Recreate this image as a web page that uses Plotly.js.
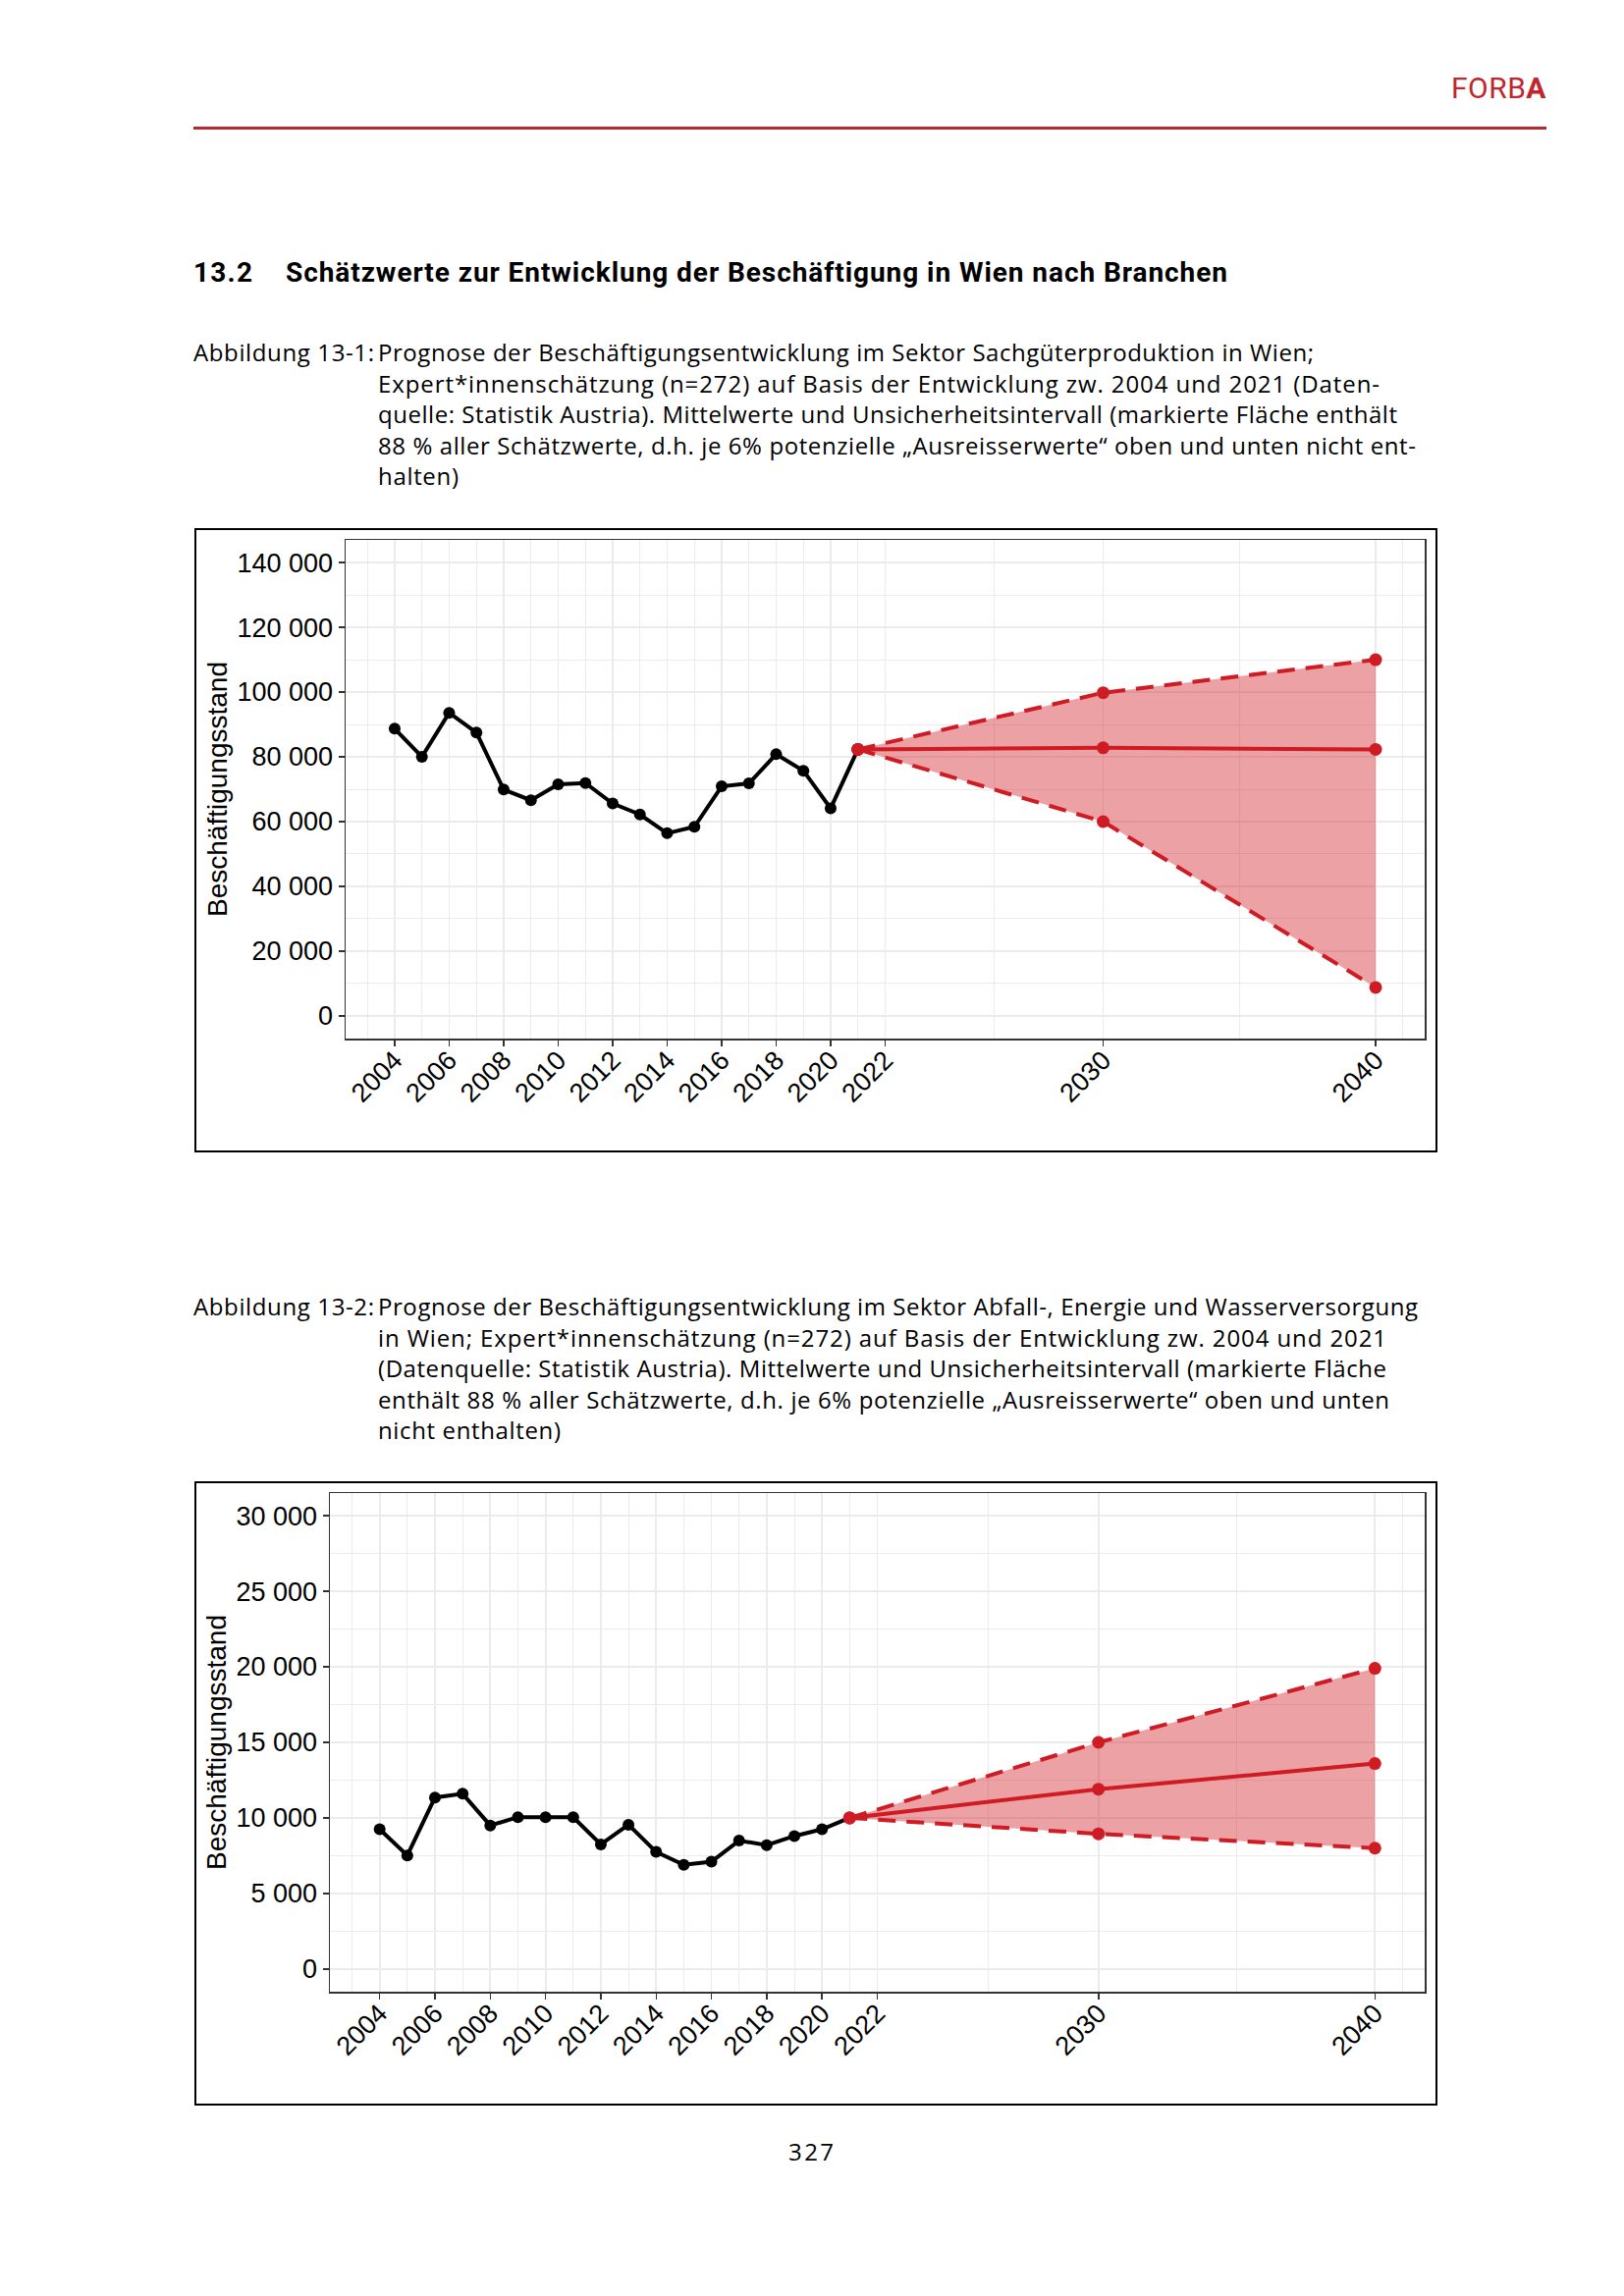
<!DOCTYPE html>
<html>
<head>
<meta charset="utf-8">
<script src="https://cdn.plot.ly/plotly-3.0.1.min.js"></script>
<style>
html,body{margin:0;padding:0;background:#fff;}
#page{position:relative;width:1654px;height:2339px;overflow:hidden;background:#fff;font-family:"Open Sans",Roboto,sans-serif;color:#000;}
.t{position:absolute;white-space:nowrap;line-height:32px;height:32px;font-size:24px;}
.h{font-weight:700;font-size:28px;font-family:Roboto,"Open Sans",sans-serif;}
.frame{position:absolute;border:2px solid #000;width:1262px;height:632px;left:198px;}
.rule{position:absolute;left:197px;width:1378px;top:129px;height:3px;background:#b8282e;}
#forba{position:absolute;top:70px;right:79px;font-size:30px;line-height:40px;color:#c0272d;letter-spacing:0.5px;font-family:Roboto,sans-serif;}
#forba b{font-weight:700;}
</style>
</head>
<body>
<div id="page">
  <div id="forba">FORB<b>A</b></div>
  <div class="rule"></div>
  <div id="c1" class="frame" style="top:538px;"></div>
  <div id="c2" class="frame" style="top:1509px;"></div>
</div>
<script>
// ---------- data ----------
const histYears = [2004,2005,2006,2007,2008,2009,2010,2011,2012,2013,2014,2015,2016,2017,2018,2019,2020,2021];
const forecastYears = [2021, 2030, 2040];

// Abbildung 13-1: Sachgüterproduktion
const sachHist  = [88700,80000,93600,87500,69900,66600,71500,71900,65600,62200,56400,58400,70900,71800,80800,75700,64100,82300];
const sachMean  = [82300, 82800, 82300];
const sachUpper = [82300, 99800, 110000];
const sachLower = [82300, 60000, 8800];

// Abbildung 13-2: Abfall-, Energie und Wasserversorgung
const abfHist  = [9250,7520,11350,11600,9500,10050,10050,10050,8250,9550,7750,6900,7100,8500,8200,8800,9250,10000];
const abfMean  = [10000, 11900, 13600];
const abfUpper = [10000, 15000, 19900];
const abfLower = [10000, 8950, 8000];

// ticks
const xTickVals = [2004,2006,2008,2010,2012,2014,2016,2018,2020,2022,2030,2040];
const xTickText = ['2004','2006','2008','2010','2012','2014','2016','2018','2020','2022','2030','2040'];
const xMinorVals = [2003,2005,2007,2009,2011,2013,2015,2017,2019,2021,2026,2035,2041];
const y1TickVals = [0,20000,40000,60000,80000,100000,120000,140000];
const y1TickText = ['0','20 000','40 000','60 000','80 000','100 000','120 000','140 000'];
const y1MinorVals = [10000,30000,50000,70000,90000,110000,130000];
const y2TickVals = [0,5000,10000,15000,20000,25000,30000];
const y2TickText = ['0','5 000','10 000','15 000','20 000','25 000','30 000'];
const y2MinorVals = [2500,7500,12500,17500,22500,27500];

const yTitle = 'Beschäftigungsstand';

// ---------- text ----------
const lines = [
  // [text, x, centerY, endX, cls]
  ['13.2', 197, 279, 257, 'h'],
  ['Schätzwerte zur Entwicklung der Beschäftigung in Wien nach Branchen', 291, 279, 1250, 'h'],
  ['Abbildung 13-1:', 197, 360, 381, ''],
  ['Prognose der Beschäftigungsentwicklung im Sektor Sachgüterproduktion in Wien;', 385, 360, 1338, ''],
  ['Expert*innenschätzung (n=272) auf Basis der Entwicklung zw. 2004 und 2021 (Daten-', 385, 391.5, 1405, ''],
  ['quelle: Statistik Austria). Mittelwerte und Unsicherheitsintervall (markierte Fläche enthält', 385, 423, 1423, ''],
  ['88 % aller Schätzwerte, d.h. je 6% potenzielle \u201EAusreisserwerte\u201C oben und unten nicht ent-', 385, 454.5, 1442, ''],
  ['halten)', 385, 486, 467, ''],
  ['Abbildung 13-2:', 197, 1332, 381, ''],
  ['Prognose der Beschäftigungsentwicklung im Sektor Abfall-, Energie und Wasserversorgung', 385, 1332, 1444, ''],
  ['in Wien; Expert*innenschätzung (n=272) auf Basis der Entwicklung zw. 2004 und 2021', 385, 1363.5, 1412, ''],
  ['(Datenquelle: Statistik Austria). Mittelwerte und Unsicherheitsintervall (markierte Fläche', 385, 1395, 1412, ''],
  ['enthält 88 % aller Schätzwerte, d.h. je 6% potenzielle \u201EAusreisserwerte\u201C oben und unten', 385, 1426.5, 1415, ''],
  ['nicht enthalten)', 385, 1458, 571, ''],
  ['327', 803, 2193, 849, '']
];
const page = document.getElementById('page');
const els = lines.map(([txt,x,cy,endX,cls]) => {
  const d = document.createElement('div');
  d.className = 't ' + cls;
  d.textContent = txt;
  d.style.left = x + 'px';
  d.style.top = (cy - 17) + 'px';
  page.appendChild(d);
  return [d, txt, x, endX];
});
function fit(){
  els.forEach(([d,txt,x,endX]) => {
    d.style.letterSpacing = '0px';
    const w = d.getBoundingClientRect().width;
    const n = Array.from(txt).length;
    if (n > 1) d.style.letterSpacing = ((endX - x - w) / (n - 1)) + 'px';
  });
}
fit();
if (document.fonts && document.fonts.ready) document.fonts.ready.then(fit);

// ---------- charts ----------
const RED = '#cf1b24';
const FILL = 'rgba(210,30,40,0.42)';

function traces(hist, mean, upper, lower){
  return [
    {x: forecastYears, y: lower, mode:'lines', line:{width:0, color:FILL}, hoverinfo:'skip'},
    {x: forecastYears, y: upper, mode:'lines', line:{width:0, color:FILL}, fill:'tonexty', fillcolor:FILL, hoverinfo:'skip'},
    {x: histYears, y: hist, mode:'lines+markers', line:{color:'#000', width:4}, marker:{color:'#000', size:12}},
    {x: forecastYears, y: upper, mode:'lines+markers', line:{color:RED, width:4, dash:'18px,11px'}, marker:{color:RED, size:13}},
    {x: forecastYears, y: lower, mode:'lines+markers', line:{color:RED, width:4, dash:'18px,11px'}, marker:{color:RED, size:13}},
    {x: forecastYears, y: mean, mode:'lines+markers', line:{color:RED, width:4}, marker:{color:RED, size:13}}
  ];
}

function layout(left, yRange, tv, tt, minor){
  const GRID = '#ebebeb';
  return {
    width:1262, height:632,
    margin:{l:left, r:11, t:10, b:114, pad:0},
    paper_bgcolor:'#fff', plot_bgcolor:'#fff',
    showlegend:false,
    font:{family:'"Liberation Sans", Arial, sans-serif', size:27, color:'#000'},
    xaxis:{
      range:[2002.2, 2041.8], tickmode:'array', tickvals:xTickVals, ticktext:xTickText,
      tickangle:-45, tickfont:{size:27, color:'#000'}, ticklabelstandoff:-12,
      ticks:'outside', ticklen:6, tickwidth:1.5, tickcolor:'#333',
      showline:true, linecolor:'#333', linewidth:1.5, mirror:true,
      showgrid:true, gridcolor:GRID, gridwidth:1.8, zeroline:false,
      minor:{tickmode:'array', tickvals:xMinorVals, showgrid:true, gridcolor:GRID, gridwidth:1, ticks:''}
    },
    yaxis:{
      range:yRange, tickmode:'array', tickvals:tv, ticktext:tt,
      tickfont:{size:27, color:'#000'},
      ticks:'outside', ticklen:6, tickwidth:1.5, tickcolor:'#333',
      showline:true, linecolor:'#333', linewidth:1.5, mirror:true,
      showgrid:true, gridcolor:GRID, gridwidth:1.8, zeroline:false,
      minor:{tickmode:'array', tickvals:minor, showgrid:true, gridcolor:GRID, gridwidth:1, ticks:''},
      title:{text:yTitle, font:{size:28, color:'#000'}, standoff:1}
    }
  };
}

const cfg = {staticPlot:true, displayModeBar:false};
Plotly.newPlot('c1', traces(sachHist, sachMean, sachUpper, sachLower),
  layout(152, [-7000, 147000], y1TickVals, y1TickText, y1MinorVals), cfg);
Plotly.newPlot('c2', traces(abfHist, abfMean, abfUpper, abfLower),
  layout(136, [-1500, 31500], y2TickVals, y2TickText, y2MinorVals), cfg);
</script>
</body>
</html>
